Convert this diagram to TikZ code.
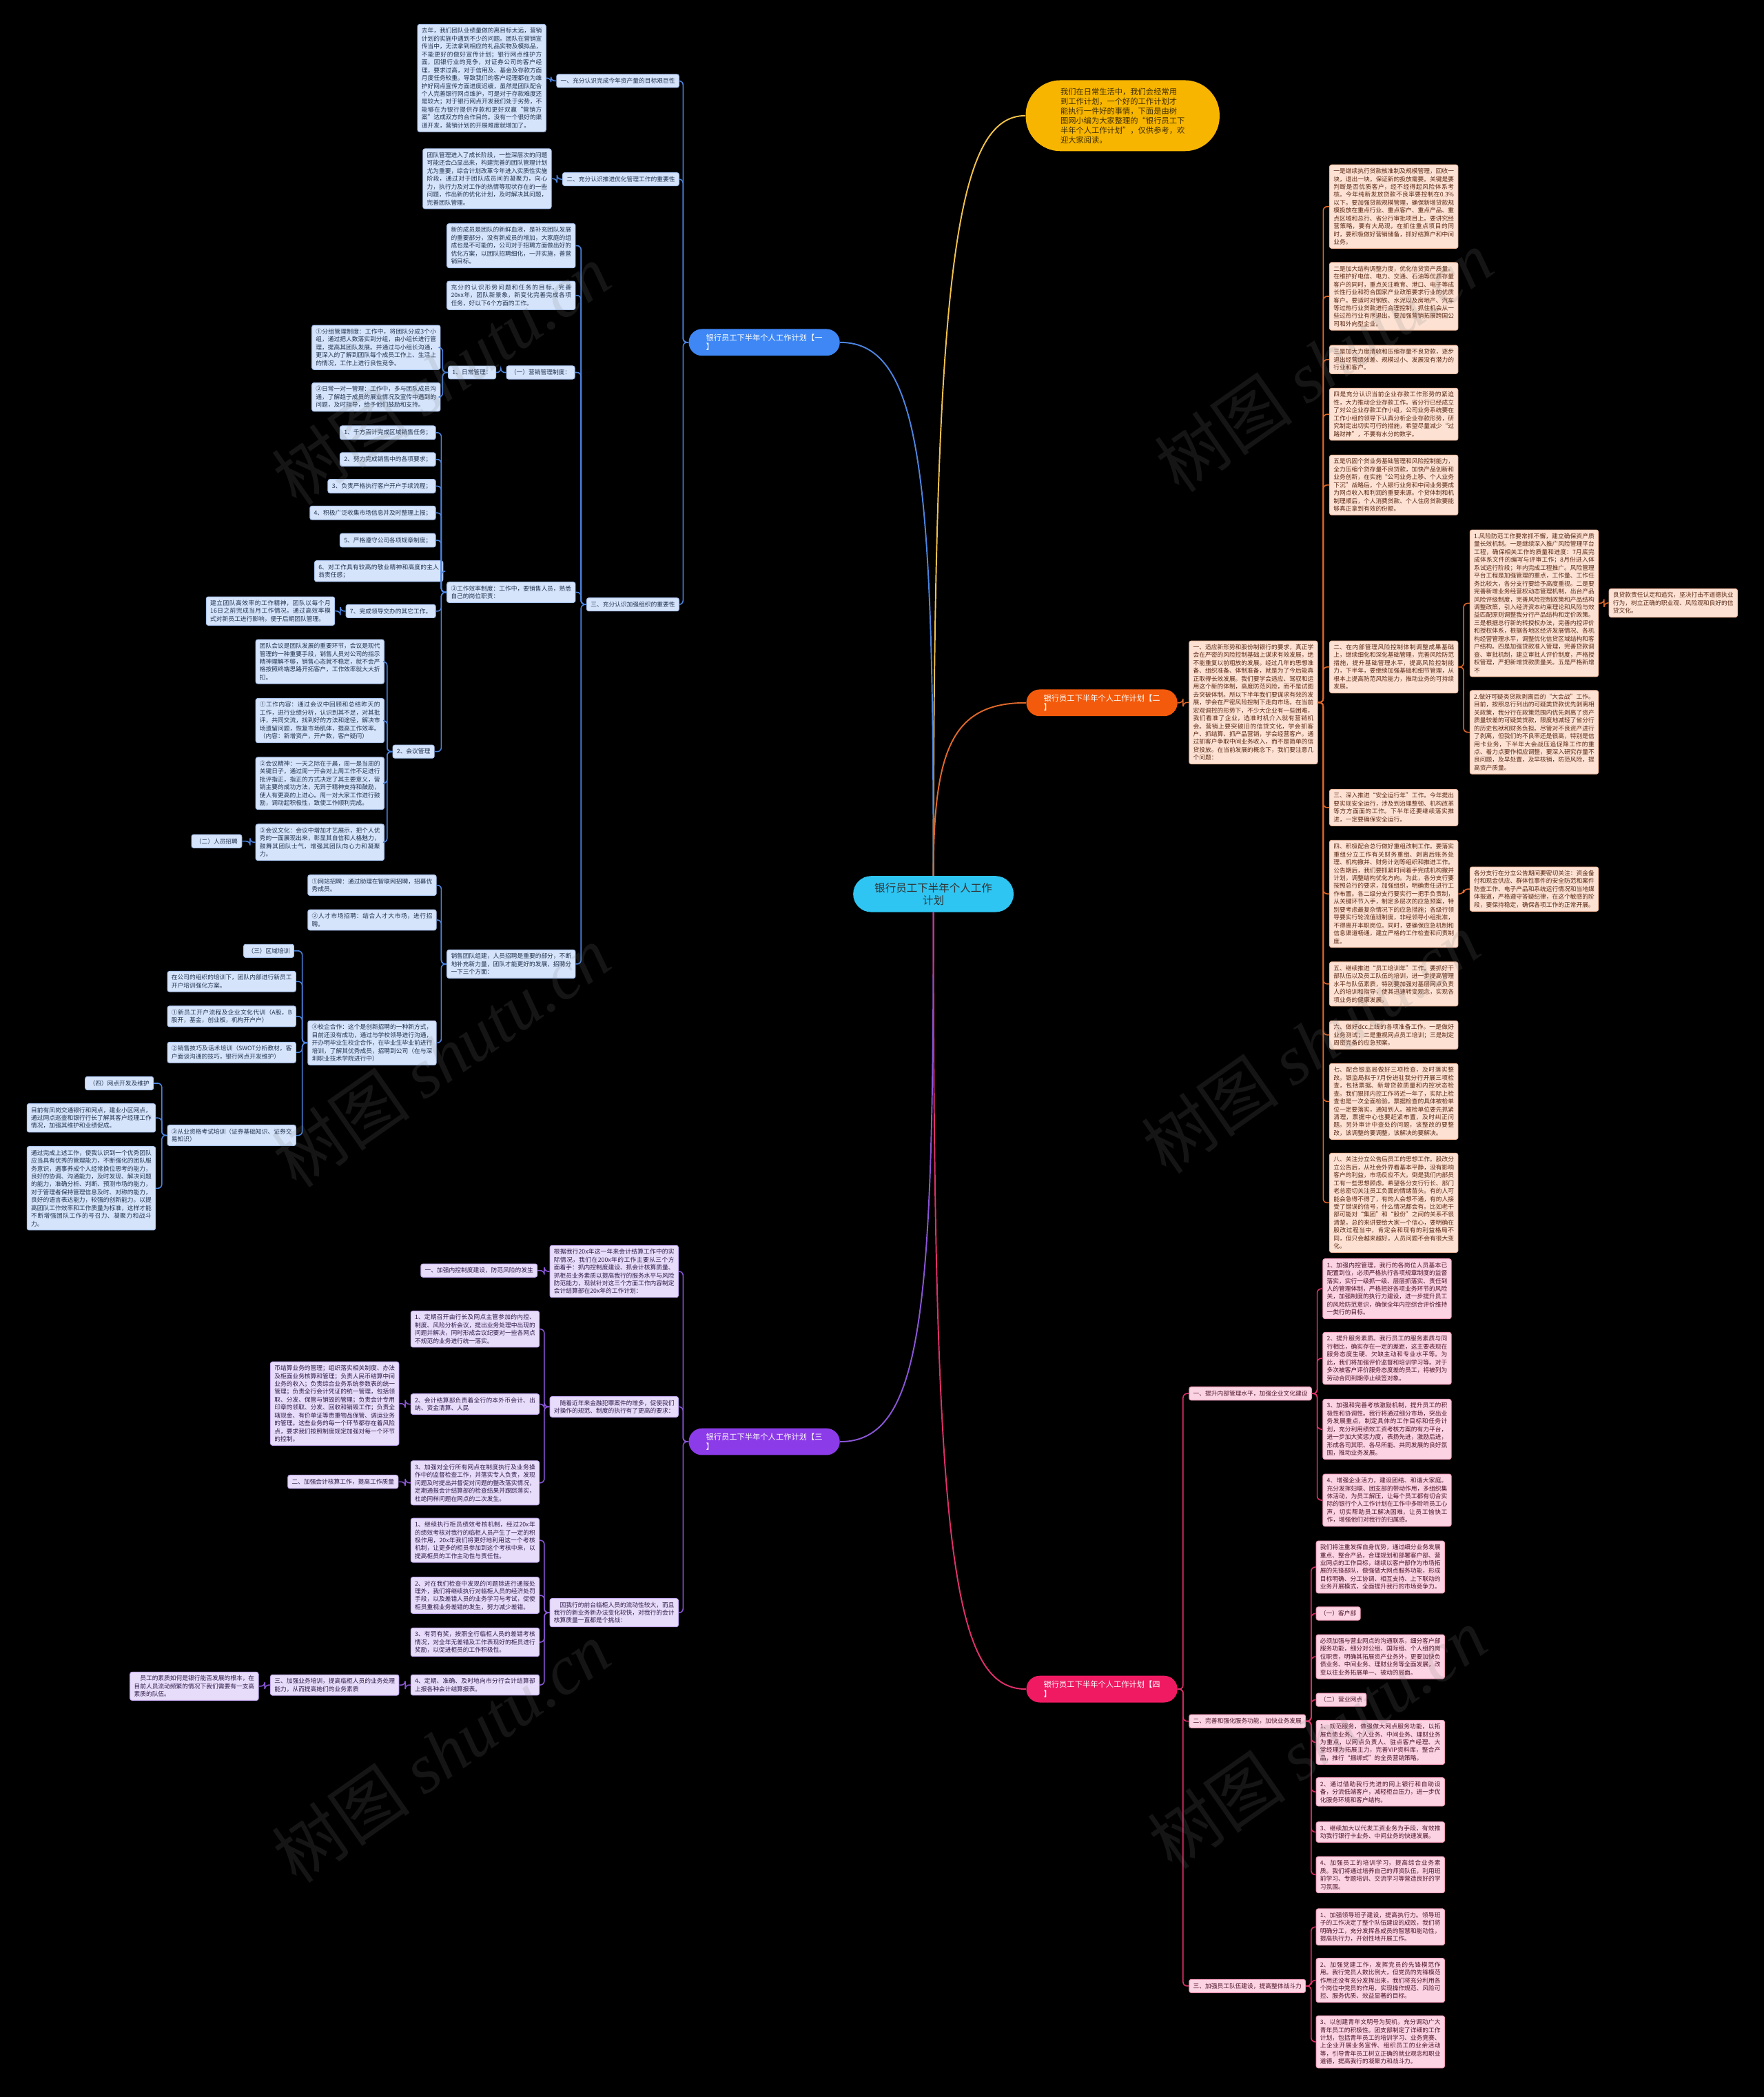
\documentclass[tikz,border=0pt]{standalone}
\usepackage{fontspec}
\setmainfont{Noto Sans CJK SC}
\newfontfamily\wmserif{Liberation Serif}
\XeTeXlinebreaklocale "zh"
\XeTeXlinebreakskip=0pt plus 1pt
\setlength\parindent{0pt}
\usetikzlibrary{calc}
\definecolor{bgblack}{HTML}{000000}
\definecolor{ctrcyan}{HTML}{2EC5F2}
\definecolor{introyel}{HTML}{F7B500}
\definecolor{yelline}{HTML}{F2C24A}
\definecolor{bluemain}{HTML}{3E87F5}
\definecolor{bluefill}{HTML}{D5E4FB}
\definecolor{blueedge}{HTML}{A9C3EE}
\definecolor{bluetext}{HTML}{22334F}
\definecolor{blueline}{HTML}{4C84E0}
\definecolor{orgmain}{HTML}{F45A0B}
\definecolor{orgfill}{HTML}{FDE2D4}
\definecolor{orgedge}{HTML}{F3B99C}
\definecolor{orgtext}{HTML}{5A2814}
\definecolor{orgline}{HTML}{E0682A}
\definecolor{purmain}{HTML}{8C3BE8}
\definecolor{purfill}{HTML}{E7DCF9}
\definecolor{puredge}{HTML}{C2A8EE}
\definecolor{purtext}{HTML}{2E1B4B}
\definecolor{purline}{HTML}{8A55D6}
\definecolor{pnkmain}{HTML}{F01A63}
\definecolor{pnkfill}{HTML}{FBD3E2}
\definecolor{pnkedge}{HTML}{F09AB9}
\definecolor{pnktext}{HTML}{4D1428}
\definecolor{pnkline}{HTML}{E0306A}
\def\lkl[#1](#2)(#3){\draw[#1] (#2.west) -- ++(-4,0) |- (#3.east);}
\def\lkr[#1](#2)(#3){\draw[#1] (#2.east) -- ++(4,0) |- (#3.west);}

\begin{document}
\begin{tikzpicture}[x=1pt,y=-1pt,
	box/.style={anchor=north west, text width=90pt, align=justify, font=\fontsize{4.5}{5.9}\selectfont, inner xsep=3pt, inner ysep=2.6pt, rounded corners=1.5pt, line width=0.5pt},
	tag/.style={font=\fontsize{4.5}{5.9}\selectfont, inner xsep=3pt, inner ysep=2.8pt, rounded corners=1.5pt, line width=0.5pt},
	blu/.style={fill=bluefill, draw=blueedge, text=bluetext},
	org/.style={fill=orgfill, draw=orgedge, text=orgtext},
	pur/.style={fill=purfill, draw=puredge, text=purtext},
	pnk/.style={fill=pnkfill, draw=pnkedge, text=pnktext},
	pill/.style={text=white, font=\fontsize{5.8}{7}\selectfont, minimum width=113pt, minimum height=20pt, align=left, rounded corners=10pt, inner sep=0pt},
	bline/.style={blueline, line width=0.8pt, rounded corners=3pt},
	oline/.style={orgline, line width=0.8pt, rounded corners=3pt},
	pline/.style={purline, line width=0.8pt, rounded corners=3pt},
	kline/.style={pnkline, line width=0.8pt, rounded corners=3pt},
	wmark/.style={text=gray, text opacity=0.17, font=\fontsize{52}{60}\selectfont, rotate=35}]
	%%%%% START %%%%%
	
	\fill[bgblack] (0,0) rectangle (1319,1568);
	\useasboundingbox (0,0) rectangle (1319,1568);
	
	%%%%% CENTRE AND INTRO %%%%%
	\node[fill=ctrcyan, text=black!80, font=\fontsize{8}{9.5}\selectfont, align=center, minimum width=120pt, minimum height=27pt, rounded corners=13.5pt, inner sep=0pt] (ctr) at (698,668.5) {银行员工下半年个人工作\\计划};
	\node[fill=introyel, text=black!75!introyel, font=\fontsize{5.8}{7.2}\selectfont, align=left, minimum width=145pt, minimum height=53pt, rounded corners=26pt, inner sep=0pt] (intro) at (839.5,86.5) {我们在日常生活中，我们会经常用\\到工作计划，一个好的工作计划才\\能执行一件好的事情，下面是由树\\图网小编为大家整理的“银行员工下\\半年个人工作计划”，仅供参考，欢\\迎大家阅读。};
	
	\node[pill, fill=bluemain] (b1) at (571.5,256) {银行员工下半年个人工作计划【一\\】};
	\node[pill, fill=orgmain] (b2) at (824,525.5) {银行员工下半年个人工作计划【二\\】};
	\node[pill, fill=purmain] (b3) at (571.5,1078) {银行员工下半年个人工作计划【三\\】};
	\node[pill, fill=pnkmain] (b4) at (824,1263) {银行员工下半年个人工作计划【四\\】};
	
	\draw[yelline, line width=1pt] (ctr.north) .. controls (698,200) and (715,86.5) .. (intro.west);
	\draw[blueline, line width=1pt] (ctr.north) .. controls (698,360) and (690,256) .. (b1.east);
	\draw[orgline, line width=1pt] (ctr.north) .. controls (698,560) and (712,525.5) .. (b2.west);
	\draw[purline, line width=1pt] (ctr.south) .. controls (698,980) and (690,1078) .. (b3.east);
	\draw[pnkline, line width=1pt] (ctr.south) .. controls (698,1160) and (712,1263) .. (b4.west);
	
	%%%%% BRANCH ONE %%%%%
	\node[box,blu] (p1) at (312,18) {去年，我们团队业绩量做的离目标太远，营销计划的实施中遇到不少的问题。团队在营销宣传当中，无法拿到相应的礼品实物及模拟品，不能更好的做好宣传计划；银行网点维护方面，因银行业的竞争，对证券公司的客户经理，要求过高，对于信用及、基金及存款方面月度任务较重。导致我们的客户经理都在为维护好网点宣传方面进度迟缓，虽然是团队配合个人完善银行网点维护，可是对于存款难度还是较大；对于银行网点开发我们处于劣势，不能够在为银行提供存款和更好双赢“营销方案”达成双方的合作目的。没有一个很好的渠道开发，营销计划的开展难度就增加了。};
	\node[tag,blu,anchor=east] (l1) at (508,60.5) {一、充分认识完成今年资产量的目标艰巨性};
	\node[box,blu] (p2) at (316,111) {团队管理进入了成长阶段，一些深层次的问题可能还会凸显出来，构建完善的团队管理计划尤为重要，综合计划改革今年进入实质性实施阶段，通过对于团队成员间的凝聚力，向心力，执行力及对工作的热情等现状存在的一些问题，作出新的优化计划，及时解决其问题，完善团队管理。};
	\node[tag,blu,anchor=east] (l2) at (508,134) {二、充分认识推进优化管理工作的重要性};
	\node[box,blu] (p3) at (334,167) {新的成员是团队的新鲜血液，是补充团队发展的重要部分，没有新成员的增加，大家庭的组成也是不可能的，公司对于招聘方面做出好的优化方案，以团队招聘细化，一并实施，善营销目标。};
	\node[box,blu] (p4) at (334,210) {充分的认识形势问题和任务的目标，完善20xx年，团队新景象，新变化完善完成各项任务，好以下6个方面的工作。};
	\node[tag,blu,anchor=east] (yx) at (430,278.5) {（一）营销管理制度：};
	\node[tag,blu,anchor=east] (rc) at (371,278.5) {1、日常管理：};
	\node[box,blu] (fz) at (233,243) {①分组管理制度：工作中，将团队分成3个小组，通过把人数落实到分组，由小组长进行管理，提高其团队发展。并通过与小组长沟通，更深入的了解到团队每个成员工作上、生活上的情况，工作上进行良性竞争。};
	\node[box,blu] (dc) at (233,286) {②日常一对一管理：工作中，多与团队成员沟通，了解趋于成员的展业情况及宣传中遇到的问题，及时指导，给予他们鼓励和支持。};
	\node[tag,blu,anchor=east] (i1) at (326,323.5) {1、千方百计完成区域销售任务；};
	\node[tag,blu,anchor=east] (i2) at (326,343.5) {2、努力完成销售中的各项要求；};
	\node[tag,blu,anchor=east] (i3) at (326,363.5) {3、负责严格执行客户开户手续流程；};
	\node[tag,blu,anchor=east] (i4) at (326,383.5) {4、积极广泛收集市场信息并及时整理上报；};
	\node[tag,blu,anchor=east] (i5) at (326,404) {5、严格遵守公司各项规章制度；};
	\node[box,blu] (i6) at (235,419) {6、对工作具有较高的敬业精神和高度的主人翁责任感；};
	\node[tag,blu,anchor=east] (i7) at (326,457) {7、完成领导交办的其它工作。};
	\node[box,blu] (gx) at (334,435) {③工作效率制度：工作中，要销售人员，熟悉自己的岗位职责：};
	\node[tag,blu,anchor=east] (l3) at (508,452) {三、充分认识加强组织的重要性};
	\node[box,blu] (gj) at (154,446) {建立团队高效率的工作精神，团队以每个月16日之前完成当月工作情况，通过高效率模式对新员工进行影响，便于后期团队管理。};
	\node[tag,blu,anchor=east] (hy) at (325,562) {2、会议管理};
	\node[box,blu] (tdh) at (191,478) {团队会议是团队发展的重要环节，会议是现代管理的一种重要手段，销售人员对公司的指示精神理解不够，销售心态就不稳定，就不会严格按照终端思路开拓客户，工作效率就大大折扣。};
	\node[box,blu] (gznr) at (191,522) {①工作内容：通过会议中回顾和总结昨天的工作，进行业绩分析，认识到其不足，对其批评，共同交流，找到好的方法和途径，解决市场遗留问题，恢复市场肌体，提高工作效率。（内容：新增资产，开户数，客户疑问）};
	\node[box,blu] (hyjs) at (191,566) {②会议精神：一天之际在于晨，周一是当周的关键日子，通过周一开会对上周工作不足进行批评指正，指正的方式决定了其主要意义，营销主要的成功方法，无异于精神支持和鼓励，使人有更高的上进心。周一对大家工作进行鼓励，调动起积极性，致使工作顺利完成。};
	\node[box,blu] (hywh) at (191,616) {③会议文化：会议中增加才艺展示，把个人优秀的一面展现出来，彰显其自信和人格魅力，鼓舞其团队士气，增强其团队向心力和凝聚力。};
	\node[tag,blu,anchor=east] (rz) at (181,629) {（二）人员招聘};
	\node[box,blu] (wz) at (230,654) {①网站招聘：通过助理在智联网招聘，招募优秀成员。};
	\node[box,blu] (rc2) at (230,680) {②人才市场招聘：结合人才大市场，进行招聘。};
	\node[box,blu] (xs) at (334,710) {销售团队组建，人员招聘是重要的部分，不断地补充新力量，团队才能更好的发展，招聘分一下三个方面：};
	\node[tag,blu,anchor=east] (qy) at (220,711) {（三）区域培训};
	\node[box,blu] (zz) at (125,726) {在公司的组织的培训下，团队内部进行新员工开户培训强化方案。};
	\node[box,blu] (xyg) at (125,752) {①新员工开户流程及企业文化代训（A股，B股开，基金，创业板，机构开户户）};
	\node[box,blu] (xq) at (230,763) {③校企合作：这个是创新招聘的一种新方式，目前还没有成功，通过与学校领导进行沟通，开办明毕业生校企合作，在毕业生毕业前进行培训，了解其优秀成员，招聘到公司（在与深圳职业技术学院进行中）};
	\node[box,blu] (xsjq) at (125,779) {②销售技巧及话术培训（SWOT分析教材，客户面谈沟通的技巧，银行网点开发维护）};
	\node[tag,blu,anchor=east] (wd) at (115,810) {（四）网点开发及维护};
	\node[box,blu] (mq) at (20,825) {目前有凤岗交通银行和网点，建业小区网点，通过网点巡查和银行行长了解其客户经理工作情况，加强其维护和业绩促成。};
	\node[box,blu] (cy) at (125,841) {③从业资格考试培训（证券基础知识、证券交易知识）};
	\node[box,blu] (tg) at (20,857) {通过完成上述工作，使我认识到一个优秀团队应当具有优秀的管理能力，不断强化的团队服务意识，遇事养成个人经常换位思考的能力，良好的协调、沟通能力，及时发现、解决问题的能力，准确分析、判断、预测市场的能力，对于管理者保持管理信息及时、对称的能力，良好的语言表达能力，较强的创新能力。以提高团队工作效率和工作质量为标准，这样才能不断增强团队工作的号召力、凝聚力和战斗力。};
	
	\lkl[bline](b1)(l1) \lkl[bline](b1)(l2) \lkl[bline](b1)(l3)
	\lkl[bline](l1)(p1) \lkl[bline](l2)(p2)
	\lkl[bline](l3)(p3) \lkl[bline](l3)(p4) \lkl[bline](l3)(yx) \lkl[bline](l3)(gx) \lkl[bline](l3)(xs)
	\lkl[bline](yx)(rc) \lkl[bline](rc)(fz) \lkl[bline](rc)(dc)
	\lkl[bline](gx)(i1) \lkl[bline](gx)(i2) \lkl[bline](gx)(i3) \lkl[bline](gx)(i4)
	\lkl[bline](gx)(i5) \lkl[bline](gx)(i6) \lkl[bline](gx)(i7) \lkl[bline](gx)(hy)
	\lkl[bline](i7)(gj)
	\lkl[bline](hy)(tdh) \lkl[bline](hy)(gznr) \lkl[bline](hy)(hyjs) \lkl[bline](hy)(hywh)
	\lkl[bline](hywh)(rz)
	\lkl[bline](xs)(wz) \lkl[bline](xs)(rc2) \lkl[bline](xs)(xq)
	\lkl[bline](xq)(qy) \lkl[bline](xq)(zz) \lkl[bline](xq)(xyg) \lkl[bline](xq)(xsjq) \lkl[bline](xq)(cy)
	\lkl[bline](cy)(wd) \lkl[bline](cy)(mq) \lkl[bline](cy)(tg)
	
	%%%%% BRANCH TWO %%%%%
	\node[box,org] (sy) at (889,479) {一、适应新形势和股份制银行的要求，真正学会在严密的风险控制基础上谋求有效发展，绝不能重复以前粗放的发展。经过几年的思想准备、组织准备、体制准备，就是为了今后能真正取得长效发展。我们要学会适应、驾驭和运用这个新的体制，高度防范风险，而不是试图去突破体制。所以下半年我们要谋求有效的发展，学会在严密风险控制下走向市场。在当前宏观调控的形势下，不少大企业有一些困难，我们看准了企业，选准时机介入就有营销机会。营销上要突破旧的信贷文化，学会抓客户、抓结算、抓产品营销，学会经营客户。通过抓客户争取中间业务收入，而不是简单的信贷投放。在当前发展的概念下，我们要注意几个问题：};
	\node[box,org] (a1) at (994,123) {一是继续执行贷款核准制及规模管理，回收一块，退出一块，保证新的投放需要。关键是要判断是否优质客户，经不经得起风险体系考核。今年纯新发放贷款不良率要控制在0.3\%以下。要加强贷款规模管理，确保新增贷款规模投放在重点行业、重点客户、重点产品、重点区域和总行、省分行审批项目上。要讲究经营策略，要有大局观，在抓住重点项目的同时，要积极做好营销储备，抓好结算户和中间业务。};
	\node[box,org] (a2) at (994,196) {二是加大结构调整力度，优化信贷资产质量。在维护好电信、电力、交通、石油等优质存量客户的同时，重点关注教育、港口、电子等成长性行业和符合国家产业政策要求行业的优质客户。要适时对钢铁、水泥以及房地产、汽车等过热行业贷款进行合理控制，抓住机会从一些过热行业有序退出。要加强营销拓展跨国公司和外向型企业。};
	\node[box,org] (a3) at (994,258) {三是加大力度清收和压缩存量不良贷款，逐步退出经营绩效差、规模过小、发展没有潜力的行业和客户。};
	\node[box,org] (a4) at (994,290) {四是充分认识当前企业存款工作形势的紧迫性，大力推动企业存款工作。省分行已经成立了对公企业存款工作小组，公司业务系统要在工作小组的领导下认真分析企业存款形势，研究制定出切实可行的措施，希望尽量减少“过路财神”，不要有水分的数字。};
	\node[box,org] (a5) at (994,340) {五是巩固个贷业务基础管理和风险控制能力，全力压缩个贷存量不良贷款，加快产品创新和业务创新，在实施“公司业务上移、个人业务下沉”战略后，个人银行业务和中间业务要成为网点收入和利润的重要来源。个贷体制和机制理顺后，个人消费贷款、个人住房贷款要能够真正拿到有效的份额。};
	\node[box,org] (a6) at (994,479) {二、在内部管理风险控制体制调整成果基础上，继续细化和深化基础管理，完善风险防范措施，提升基础管理水平，提高风险控制能力，下半年，要继续加强基础和细节管理，从根本上提高防范风险能力，推动业务的可持续发展。};
	\node[box,org] (a7) at (994,590) {三、深入推进“安全运行年”工作。今年提出要实现安全运行，涉及到治理整顿、机构改革等方方面面的工作。下半年还要继续落实推进，一定要确保安全运行。};
	\node[box,org] (a8) at (994,628) {四、积极配合总行做好重组改制工作。要落实重组分立工作有关财务重组、剥离后账务处理、机构撤并、财务计划等组织和推进工作。公告期后，我们要抓紧时间着手完成机构撤并计划，调整结构优化方向。为此，各分支行要按照总行的要求，加强组织，明确责任进行工作布置。各二级分支行要实行一把手负责制，从关键环节入手，制定多层次的应急预案，特别要考虑最复杂情况下的应急措施；各级行领导要实行轮流值班制度，非经领导小组批准，不得离开本职岗位。同时，要确保应急机制和信息渠道畅通，建立严格的工作检查和问责制度。};
	\node[box,org] (a9) at (994,719) {五、继续推进“员工培训年”工作。要抓好干部队伍以及员工队伍的培训，进一步提高管理水平与队伍素质，特别要加强对基层网点负责人的培训和指导，使其迅速转变观念，实现各项业务的健康发展。};
	\node[box,org] (a10) at (994,763) {六、做好dcc上线的各项准备工作。一是做好业务测试；二是重视网点员工培训；三是制定周密完备的应急预案。};
	\node[box,org] (a11) at (994,795) {七、配合银监局做好三项检查，及时落实整改。银监局拟于7月份进驻我分行开展三项检查，包括票据、新增贷款质量和内控状态检查。我们狠抓内控工作将近一年了，实际上检查也是一次全面检验。票据检查的具体被检单位一定要落实，通知到人。被检单位要先抓紧清理，票据中心也要赶紧布置，及时纠正问题。另外审计中查处的问题，该整改的要整改，该调整的要调整，该解决的要解决。};
	\node[box,org] (a12) at (994,862) {八、关注分立公告后员工的思想工作。股改分立公告后，从社会外界看基本平静，没有影响客户的利益，市场反应不大。倒是我们内部员工有一些思想顾虑。希望各分支行行长、部门老总密切关注员工负面的情绪苗头。有的人可能会急得不得了，有的人会想不通，有的人接受了错误的信号，什么情况都会有。比如老干部可能对“集团”和“股份”之间的关系不很清楚，总的来讲要给大家一个信心，要明确在股改过程当中，肯定会和现有的利益格局不同，但只会越来越好，人员问题不会有很大变化。};
	\node[box,org] (f1) at (1099,396) {1.风险防范工作要常抓不懈，建立确保资产质量长效机制。一是继续深入推广风险管理平台工程，确保相关工作的质量和进度：7月底完成体系文件的编写与评审工作；8月份进入体系试运行阶段；年内完成工程推广。风险管理平台工程是加强管理的重点，工作量、工作任务比较大，各分支行要给予高度重视。二是要完善新增业务经营权动态管理机制，出台产品风险评级制度，完善风险控制政策和产品结构调整政策，引入经济资本约束理论和风险与效益匹配原则调整我分行产品结构和定价政策。三是根据总行新的转授权办法，完善内控评价和授权体系，根据各地区经济发展情况、各机构经营管理水平，调整优化信贷区域结构和客户结构。四是加强贷款准入管理，完善贷款调查、审批机制，建立审批人评价制度，严格授权管理，严把新增贷款质量关。五是严格新增不};
	\node[box,org] (lg) at (1203,440) {良贷款责任认定和追究，坚决打击不道德执业行为，树立正确的职业观、风险观和良好的信贷文化。};
	\node[box,org] (f2) at (1099,516) {2.做好可疑类贷款剥离后的“大会战”工作。目前，按照总行列出的可疑类贷款优先剥离相关政策，我分行在政策范围内优先剥离了资产质量较差的可疑类贷款，限度地减轻了省分行的历史包袱和财务负担。尽管对不良资产进行了剥离，但我们的不良率还是很高，特别是信用卡业务，下半年大会战压追促降工作的重点、着力点要作相应调整，要深入研究存量不良问题，及早处置，及早核销，防范风险，提高资产质量。};
	\node[box,org] (gf) at (1099,648) {各分支行在分立公告期间要密切关注：资金备付和现金供应、群体性事件的安全防范和案件防查工作、电子产品和系统运行情况和当地媒体报道，严格遵守答疑纪律，在这个敏感的阶段，要保持稳定，确保各项工作的正常开展。};
	
	\lkr[oline](b2)(sy)
	\lkr[oline](sy)(a1) \lkr[oline](sy)(a2) \lkr[oline](sy)(a3) \lkr[oline](sy)(a4)
	\lkr[oline](sy)(a5) \lkr[oline](sy)(a6) \lkr[oline](sy)(a7) \lkr[oline](sy)(a8)
	\lkr[oline](sy)(a9) \lkr[oline](sy)(a10) \lkr[oline](sy)(a11) \lkr[oline](sy)(a12)
	\lkr[oline](a6)(f1) \lkr[oline](a6)(f2) \lkr[oline](f1)(lg) \lkr[oline](a8)(gf)
	
	%%%%% BRANCH THREE %%%%%
	\node[box,pur] (gjw) at (411,931) {根据我行20x年这一年来会计结算工作中的实际情况，我们在200x年的工作主要从三个方面着手：抓内控制度建设、抓会计核算质量、抓柜员业务素质以提高我行的服务水平与风险防范能力，现就针对这三个方面工作内容制定会计结算部在20x年的工作计划：};
	\node[tag,pur,anchor=east] (jq) at (402,950) {一、加强内控制度建设，防范风险的发生};
	\node[box,pur] (sz) at (411,1044) {　随着近年来金融犯罪案件的增多，促使我们对操作的规范、制度的执行有了更高的要求：};
	\node[box,pur] (d1) at (307,980) {1、定期召开由行长及网点主管参加的内控、制度、风险分析会议，提出业务处理中出现的问题并解决，同时形成会议纪要对一些各网点不规范的业务进行统一落实。};
	\node[box,pur] (d2) at (307,1042) {2、会计结算部负责着全行的本外币会计、出纳、资金清算、人民};
	\node[box,pur] (bjs) at (202,1018) {币结算业务的管理；组织落实相关制度、办法及柜面业务核算和管理；负责人民币结算中间业务的收入；负责综合业务系统参数表的统一管理；负责全行会计凭证的统一管理，包括领取、分发、保管与销毁的管理；负责会计专用印章的领取、分发、回收和销毁工作；负责全辖现金、有价单证等贵重物品保管、调运业务的管理。这些业务的每一个环节都存在着风险点，要求我们按照制度规定加强对每一个环节的控制。};
	\node[box,pur] (d3) at (307,1092) {3、加强对全行所有网点在制度执行及业务操作中的监督检查工作，并落实专人负责，发现问题及时提出并督促对问题的整改落实情况，定期通报会计结算部的检查结果并跟踪落实，杜绝同样问题在网点的二次发生。};
	\node[tag,pur,anchor=east] (jh) at (298,1108) {二、加强会计核算工作，提高工作质量};
	\node[box,pur] (ywx) at (411,1195) {　因我行的前台临柜人员的流动性较大，而且我行的新业务新办法变化较快，对我行的会计核算质量一直都是个挑战：};
	\node[box,pur] (e1) at (307,1135) {1、继续执行柜员绩效考核机制，经过20x年的绩效考核对我行的临柜人员产生了一定的积极作用，20x年我们将更好地利用这一个考核机制，让更多的柜员参加到这个考核中来，以提高柜员的工作主动性与责任性。};
	\node[box,pur] (e2) at (307,1179) {2、对在我们检查中发现的问题除进行通报处理外，我们将继续执行对临柜人员的经济处罚手段，以及差错人员的业务学习与考试，促使柜员重视业务差错的发生，努力减少差错。};
	\node[box,pur] (e3) at (307,1217) {3、有罚有奖，按照全行临柜人员的差错考核情况，对全年无差错及工作表现好的柜员进行奖励，以促进柜员的工作积极性。};
	\node[box,pur] (e4) at (307,1252) {4、定期、准确、及时地向市分行会计结算部上报各种会计结算报表。};
	\node[box,pur] (pxs) at (202,1252) {三、加强业务培训，提高临柜人员的业务处理能力，从而提高她们的业务素质};
	\node[box,pur] (yg) at (97,1250) {　员工的素质如何是银行能否发展的根本，在目前人员流动频繁的情况下我们需要有一支高素质的队伍。};
	
	\lkl[pline](b3)(gjw) \lkl[pline](b3)(sz) \lkl[pline](b3)(ywx)
	\lkl[pline](gjw)(jq)
	\lkl[pline](sz)(d1) \lkl[pline](sz)(d2) \lkl[pline](sz)(d3)
	\lkl[pline](d2)(bjs) \lkl[pline](d3)(jh)
	\lkl[pline](ywx)(e1) \lkl[pline](ywx)(e2) \lkl[pline](ywx)(e3) \lkl[pline](ywx)(e4)
	\lkl[pline](e4)(pxs) \lkl[pline](pxs)(yg)
	
	%%%%% BRANCH FOUR %%%%%
	\node[tag,pnk,anchor=west] (t1) at (889,1042) {一、提升内部管理水平，加强企业文化建设};
	\node[tag,pnk,anchor=west] (t2) at (889,1287) {二、完善和强化服务功能，加快业务发展};
	\node[tag,pnk,anchor=west] (t3) at (889,1485) {三、加强员工队伍建设，提高整体战斗力};
	\node[box,pnk] (g1) at (989,941) {1、加强内控管理，我行的各岗位人员基本已配置到位，必须严格执行各项规章制度的监督落实，实行一级抓一级、层层抓落实、责任到人的管理体制，严格把好各项业务环节的风险关，加强制度的执行力建设，进一步提升员工的风险防范意识，确保全年内控综合评价维持一类行的目标。};
	\node[box,pnk] (g2) at (989,996) {2、提升服务素质。我行员工的服务素质与同行相比，确实存在一定的差距，这主要表现在服务态度生硬、欠缺主动和专业水平等。为此，我们将加强评价监督和培训学习等。对于多次被客户评价服务态度差的员工，将被列为劳动合同到期停止续签对象。};
	\node[box,pnk] (g3) at (989,1046) {3、加强和完善考核激励机制，提升员工的积极性和协调性。我行将通过细分市场，突出业务发展重点，制定具体的工作目标和任务计划，充分利用绩效工资考核方案的有力平台，进一步加大奖惩力度，表扬先进，激励后进，形成各司其职、各尽所能、共同发展的良好氛围，推动业务发展。};
	\node[box,pnk] (g4) at (989,1102) {4、增强企业活力，建设团结、和谐大家庭。充分发挥妇联、团支部的带动作用，多组织集体活动，为员工解压，让每个员工都有切合实际的银行个人工作计划在工作中多聆听员工心声，切实帮助员工解决困难，让员工愉快工作，增强他们对我行的归属感。};
	\node[box,pnk] (h1) at (984,1152) {我们将注重发挥自身优势，通过细分业务发展重点、整合产品，合理规划和部署客户部、营业网点的工作目标，继续以客户部作为市场拓展的先锋部队，做强做大网点服务功能，形成目标明确、分工协调、相互支持、上下联动的业务开展模式，全面提升我行的市场竞争力。};
	\node[tag,pnk,anchor=west] (h2) at (984,1206.5) {（一）客户部};
	\node[box,pnk] (h3) at (984,1222) {必须加强与营业网点的沟通联系，细分客户部服务功能，细分对公组、国际组、个人组的岗位职责，明确其拓展资产业务外，更要加快负债业务、中间业务、理财业务等全面发展，改变以往业务拓展单一、被动的局面。};
	\node[tag,pnk,anchor=west] (h4) at (984,1271) {（二）营业网点};
	\node[box,pnk] (h5) at (984,1286) {1、规范服务，做强做大网点服务功能，以拓展负债业务、个人业务、中间业务、理财业务为重点，以网点负责人、驻点客户经理、大堂经理为拓展主力，完善VIP资料库，整合产品，推行“捆绑式”的全员营销策略。};
	\node[box,pnk] (h6) at (984,1329) {2、通过借助我行先进的网上银行和自助设备，分流低端客户，减轻柜台压力，进一步优化服务环境和客户结构。};
	\node[box,pnk] (h7) at (984,1362) {3、继续加大以代发工资业务为手段，有效推动我行银行卡业务、中间业务的快速发展。};
	\node[box,pnk] (h8) at (984,1388) {4、加强员工的培训学习，提高综合业务素质。我们将通过培养自己的师资队伍，利用班前学习、专题培训、交流学习等营造良好的学习氛围。};
	\node[box,pnk] (k1) at (984,1427) {1、加强领导班子建设，提高执行力。领导班子的工作决定了整个队伍建设的成败，我们将明确分工，充分发挥各成员的智慧和能动性，提高执行力，开创性地开展工作。};
	\node[box,pnk] (k2) at (984,1464) {2、加强党建工作，发挥党员的先锋模范作用。我行党员人数比例大，但党员的先锋模范作用还没有充分发挥出来，我们将充分利用各个岗位中党员的作用，实现操作规范、风险可控、服务优质、效益显著的目标。};
	\node[box,pnk] (k3) at (984,1507) {3、以创建青年文明号为契机，充分调动广大青年员工的积极性。团支部制定了详细的工作计划，包括青年员工的培训学习、业务竞赛、上企业开展业务宣传、组织员工的业余活动等，引导青年员工树立正确的就业观念和职业道德，提高我行的凝聚力和战斗力。};
	
	\lkr[kline](b4)(t1) \lkr[kline](b4)(t2) \lkr[kline](b4)(t3)
	\lkr[kline](t1)(g1) \lkr[kline](t1)(g2) \lkr[kline](t1)(g3) \lkr[kline](t1)(g4)
	\lkr[kline](t2)(h1) \lkr[kline](t2)(h2) \lkr[kline](t2)(h3) \lkr[kline](t2)(h4)
	\lkr[kline](t2)(h5) \lkr[kline](t2)(h6) \lkr[kline](t2)(h7) \lkr[kline](t2)(h8)
	\lkr[kline](t3)(k1) \lkr[kline](t3)(k2) \lkr[kline](t3)(k3)
	
	%%%%% WATERMARKS %%%%%
	\foreach \wx/\wy in {330/280, 990/270, 330/790, 980/780, 330/1310, 985/1300}
		\node[wmark] at (\wx,\wy) {树图 {\wmserif\itshape shutu.cn}};
	
	%%%%% END %%%%%
\end{tikzpicture}
\end{document}
